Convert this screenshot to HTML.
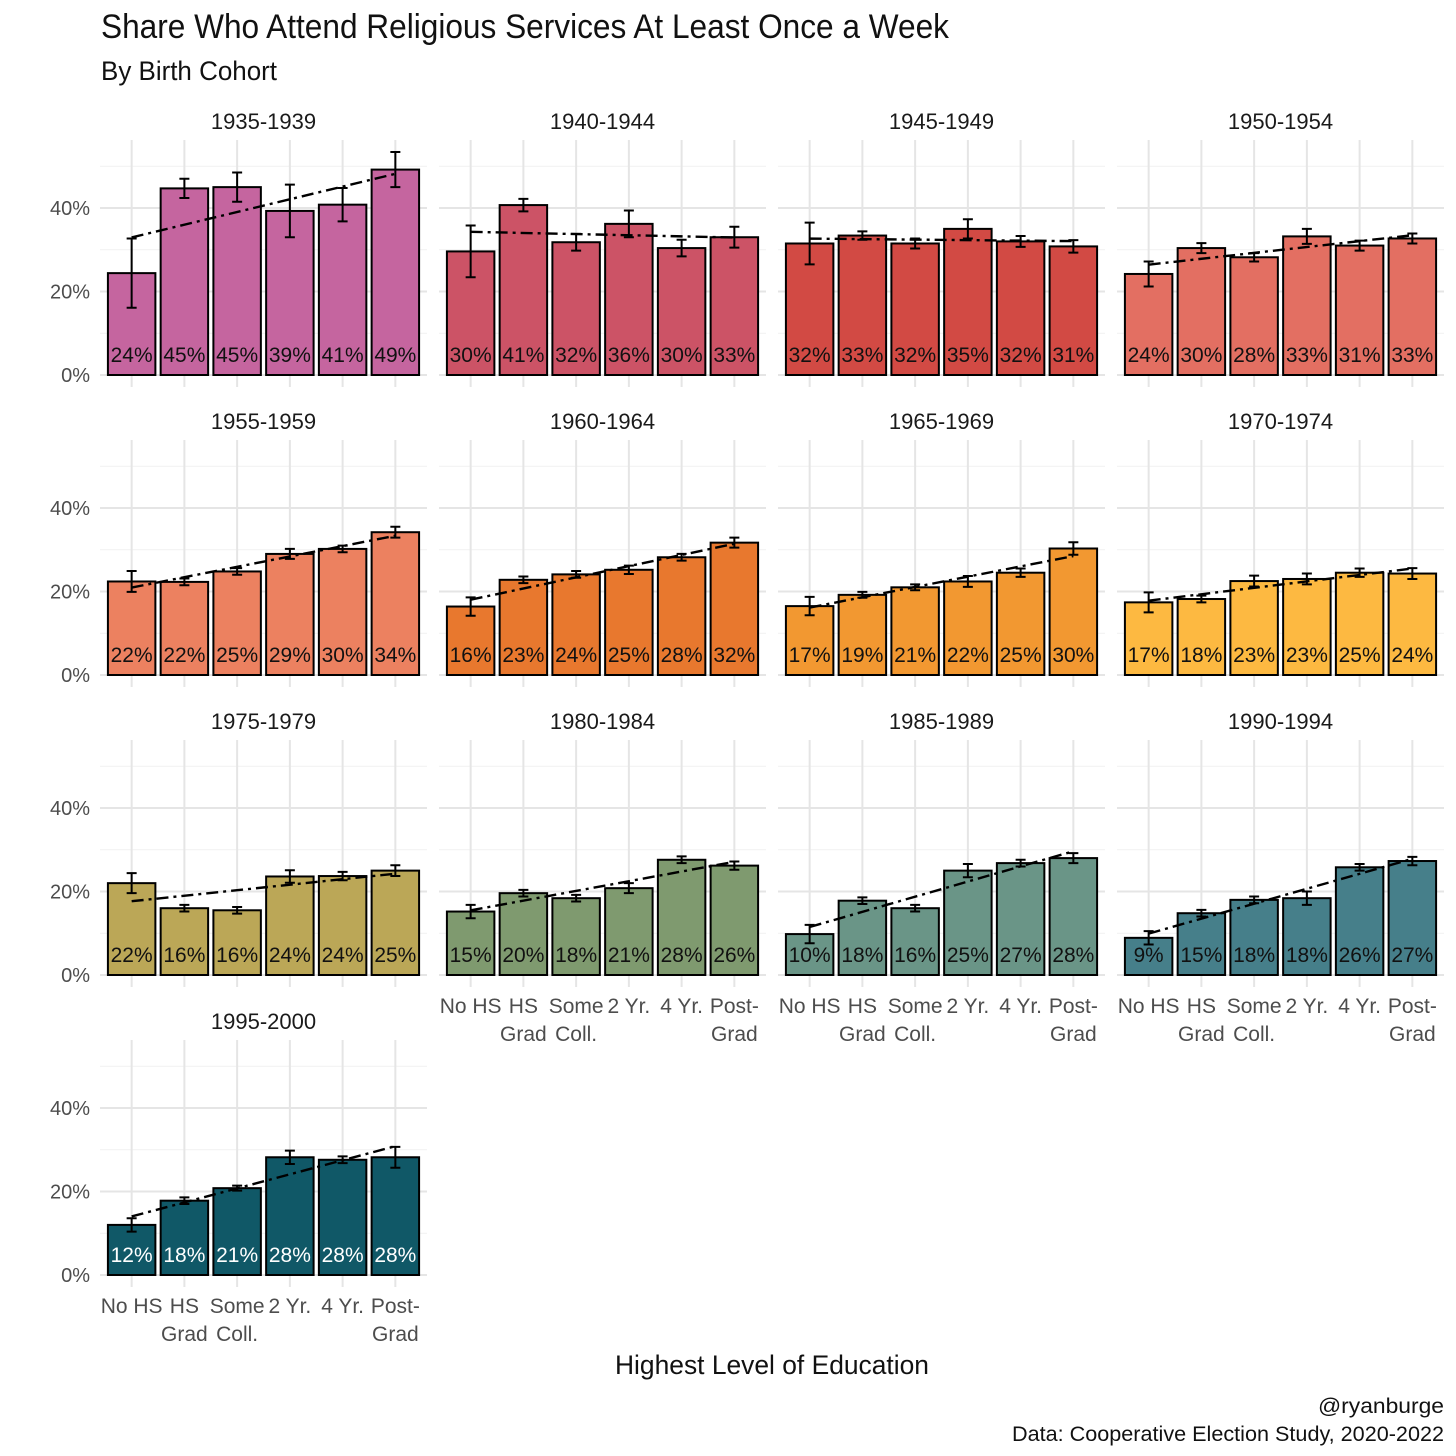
<!DOCTYPE html>
<html><head><meta charset="utf-8"><style>
html,body{margin:0;padding:0;background:#fff;}
svg{display:block;font-family:"Liberation Sans Narrow","Liberation Sans",sans-serif;}
</style></head><body>
<svg id="chart" width="1456" height="1456" viewBox="0 0 1456 1456" xmlns="http://www.w3.org/2000/svg">
<rect width="1456" height="1456" fill="#fff"/>
<text x="101" y="38" font-size="34" fill="#111" textLength="848" lengthAdjust="spacingAndGlyphs">Share Who Attend Religious Services At Least Once a Week</text>
<text x="101" y="80" font-size="27" fill="#111" textLength="176" lengthAdjust="spacingAndGlyphs">By Birth Cohort</text>
<text x="772" y="1374" font-size="27" fill="#111" text-anchor="middle" textLength="314" lengthAdjust="spacingAndGlyphs">Highest Level of Education</text>
<text x="1444" y="1413" font-size="21" fill="#111" text-anchor="end" textLength="126" lengthAdjust="spacingAndGlyphs">@ryanburge</text>
<text x="1444" y="1441" font-size="21" fill="#111" text-anchor="end" textLength="432" lengthAdjust="spacingAndGlyphs">Data: Cooperative Election Study, 2020-2022</text>
<g id="panels"></g>
</svg>
<script>
const categories = ["No HS|", "HS|Grad", "Some|Coll.", "2 Yr.|", "4 Yr.|", "Post-|Grad"];
const cohorts = ["1935-1939","1940-1944","1945-1949","1950-1954","1955-1959","1960-1964","1965-1969","1970-1974","1975-1979","1980-1984","1985-1989","1990-1994","1995-2000"];
const colors = ["#C5659F","#CC5366","#D24A44","#E36F62","#EC8160","#E8782E","#F29831","#FDB941","#BBA757","#7F9A6F","#6A9587","#467F8A","#105867"];
const v1935 = [24.4,44.7,45,39.3,40.8,49.2];
const v1940 = [29.6,40.7,31.8,36.2,30.4,33];
const v1945 = [31.5,33.4,31.5,35,32,30.8];
const v1950 = [24.2,30.4,28.2,33.2,31,32.7];
const v1955 = [22.4,22.3,24.8,29,30.2,34.2];
const v1960 = [16.4,22.8,24.1,25.2,28.2,31.7];
const v1965 = [16.5,19.2,21,22.4,24.5,30.3];
const v1970 = [17.4,18.2,22.5,23,24.5,24.3];
const v1975 = [22,16,15.5,23.6,23.7,25];
const v1980 = [15.2,19.6,18.4,20.8,27.6,26.2];
const v1985 = [9.8,17.8,16,25,26.8,28];
const v1990 = [8.9,14.8,18,18.4,25.8,27.3];
const v1995 = [12,17.8,20.8,28.2,27.6,28.2];
const e1935 = [8.3,2.3,3.5,6.3,4,4.2];
const e1940 = [6.2,1.5,2,3.2,2,2.5];
const e1945 = [5,1,1.2,2.3,1.3,1.5];
const e1950 = [3,1.2,1,1.8,1.2,1.2];
const e1955 = [2.5,0.8,0.8,1.2,0.8,1.3];
const e1960 = [2.2,0.8,0.8,1,0.8,1.2];
const e1965 = [2.2,0.7,0.7,1.3,1,1.5];
const e1970 = [2.4,0.8,1.3,1.3,1,1.3];
const e1975 = [2.4,0.8,0.8,1.5,1,1.3];
const e1980 = [1.6,0.8,0.8,1.2,0.8,1];
const e1985 = [2.2,0.8,0.8,1.6,0.8,1.2];
const e1990 = [1.6,0.8,0.8,1.6,0.8,1];
const e1995 = [1.6,0.8,0.6,1.6,0.8,2.5];
const yTicks = [0,20,40];
const values = [v1935,v1940,v1945,v1950,v1955,v1960,v1965,v1970,v1975,v1980,v1985,v1990,v1995];
const errors = [e1935,e1940,e1945,e1950,e1955,e1960,e1965,e1970,e1975,e1980,e1985,e1990,e1995];

const NS = "http://www.w3.org/2000/svg";
const root = document.getElementById("panels");
function mk(tag, attrs, parent){const e=document.createElementNS(NS,tag);for(const k in attrs)e.setAttribute(k,attrs[k]);(parent||root).appendChild(e);return e;}
const colLeft = [100,439,778,1117];
const PW = 327, PX_PER_PCT = 4.175, UNIT = PW/6.2;

cohorts.forEach((name,i)=>{
  const col=i%4,row=Math.floor(i/4);
  const L=colLeft[col], base=375+row*300, top=base-235;
  const xs = k => L + (k+0.6)*UNIT;
  const ys = v => base - v*PX_PER_PCT;
  const g=mk("g",{});
  
  
  for(let m=10;m<=50;m+=20){mk("line",{x1:L,x2:L+PW,y1:ys(m),y2:ys(m),stroke:"#f1f1f1","stroke-width":1},g);}
  yTicks.forEach(t=>mk("line",{x1:L,x2:L+PW,y1:ys(t),y2:ys(t),stroke:"#e5e5e5","stroke-width":2},g));
  for(let k=0;k<6;k++)mk("line",{x1:xs(k),x2:xs(k),y1:top,y2:base+12,stroke:"#e5e5e5","stroke-width":2},g);
  const st=mk("text",{x:L+PW/2,y:top-11,"font-size":22,"text-anchor":"middle",fill:"#1a1a1a"},g);
  st.textContent=name;
  
  
  if(col===0){yTicks.forEach(t=>{const tx=mk("text",{x:90,y:ys(t)+7,"font-size":20,"text-anchor":"end",fill:"#4d4d4d"},g);tx.textContent=t+"%";
    
    });}
  const vals=values[i], errs=errors[i];
  vals.forEach((v,k)=>{
    const b=mk("rect",{x:xs(k)-0.45*UNIT,y:ys(v),width:0.9*UNIT,height:v*PX_PER_PCT,fill:colors[i],stroke:"#000","stroke-width":2},g);
    
    
  });
  let mx=3.5,my=vals.reduce((a,b)=>a+b,0)/6,sxy=0,sxx=0;
  vals.forEach((v,k)=>{sxy+=(k+1-mx)*(v-my);sxx+=(k+1-mx)**2;});
  const sl=sxy/sxx, y1=my+sl*(1-mx), y6=my+sl*(6-mx);
  const tl=mk("line",{x1:xs(0),y1:ys(y1),x2:xs(5),y2:ys(y6),stroke:"#000","stroke-width":2.4,"stroke-dasharray":"12,5,3,5"},g);
  
  
  vals.forEach((v,k)=>{
    const e=errs[k], x=xs(k);
    const eb=mk("path",{d:`M${x-5},${ys(v+e)}H${x+5}M${x},${ys(v+e)}V${ys(v-e)}M${x-5},${ys(v-e)}H${x+5}`,stroke:"#000","stroke-width":2,fill:"none"},g);
    
    
  });
  vals.forEach((v,k)=>{
    const s=Math.round(v)+"%";
    const t=mk("text",{x:xs(k),y:base-13,"font-size":21,"text-anchor":"middle",fill:i===12?"#fff":"#111",textLength:s.length===3?42:30,lengthAdjust:"spacingAndGlyphs"},g);
    t.textContent=s;
    
    
  });
  if(i>=9){
    categories.forEach((c,k)=>{
      const [a,b]=c.split("|");
      const t1=mk("text",{x:xs(k),y:base+38,"font-size":21,"text-anchor":"middle",fill:"#4d4d4d"},g);t1.textContent=a;
      
      
      if(b){const t2=mk("text",{x:xs(k),y:base+66,"font-size":21,"text-anchor":"middle",fill:"#4d4d4d"},g);t2.textContent=b;
        
        }
    });
  }
});
</script>
</body></html>
